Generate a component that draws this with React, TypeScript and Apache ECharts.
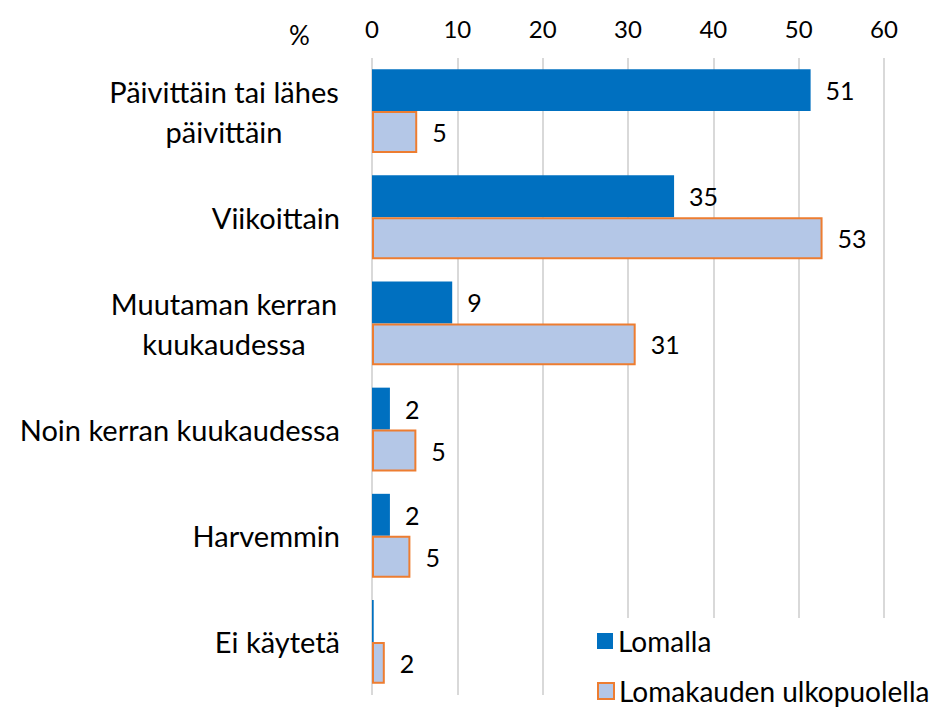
import React, { useEffect, useRef } from "react";
import * as echarts from "echarts";

const categories = [
  "Päivittäin tai lähes\npäivittäin",
  "Viikoittain",
  "Muutaman kerran\nkuukaudessa",
  "Noin kerran kuukaudessa",
  "Harvemmin",
  "Ei käytetä",
];
const seriesNames = ["Lomalla", "Lomakauden ulkopuolella"];
const lomalla = [51.4, 35.4, 9.4, 2.1, 2.1, 0.2];
const ulkopuolella = [5.3, 52.8, 30.9, 5.2, 4.5, 1.5];
const xTicks = { min: 0, max: 60, interval: 10 };

const FONT = "Lato";

function measure(text: string, size: number): number {
  const c = document.createElement("canvas").getContext("2d");
  if (!c) return text.length * size * 0.5;
  c.font = `${size}px ${FONT}`;
  return c.measureText(text).width;
}

export default function App() {
  const ref = useRef<HTMLDivElement>(null);
  useEffect(() => {
    if (!ref.current) return;
    const chart = echarts.init(ref.current, null, { renderer: "svg" });
    const catSize = 29;
    let multiW = 0;
    categories.forEach((c) => {
      if (c.includes("\n")) c.split("\n").forEach((l) => (multiW = Math.max(multiW, measure(l, catSize))));
    });
    multiW = Math.ceil(multiW) + 2;
    const valueLabel = {
      show: true,
      position: "right",
      distance: 15,
      fontSize: 25,
      color: "#000",
      fontFamily: FONT,
      formatter: (p: any) => String(Math.round(p.value)),
    };
    const legendBase = {
      orient: "horizontal",
      left: 597,
      padding: 0,
      itemWidth: 16,
      itemHeight: 16,
      icon: "rect",
      textStyle: { fontSize: 28, color: "#000", fontFamily: FONT },
    };
    chart.setOption({
      animation: false,
      textStyle: { fontFamily: FONT },
      grid: { left: 372, right: 46, top: 58, bottom: 12, containLabel: false },
      graphic: [
        {
          type: "text",
          left: 289,
          top: 22,
          style: { text: "%", fontSize: 26, fontFamily: FONT, fill: "#000" },
        },
        {
          type: "rect",
          left: 588,
          top: 618,
          z: 1,
          shape: { width: 342, height: 89 },
          style: { fill: "#fff" },
        },
      ],
      legend: [
        { ...legendBase, data: [seriesNames[0]], top: 627 },
        { ...legendBase, data: [seriesNames[1]], top: 677 },
      ],
      xAxis: {
        type: "value",
        position: "top",
        min: xTicks.min,
        max: xTicks.max,
        interval: xTicks.interval,
        axisLine: { show: false },
        axisTick: { show: false },
        axisLabel: { fontSize: 24, color: "#000", margin: 18, fontFamily: FONT },
        splitLine: { lineStyle: { color: "#D9D9D9", width: 2 } },
      },
      yAxis: {
        type: "category",
        data: categories,
        inverse: true,
        axisLine: { show: false },
        axisTick: { show: false },
        axisLabel: {
          fontSize: catSize,
          color: "#000",
          margin: 32,
          lineHeight: 40,
          fontFamily: FONT,
          align: "right",
          formatter: (v: string) =>
            v.includes("\n") ? v.split("\n").map((l) => `{m|${l}}`).join("\n") : v,
          rich: {
            m: { width: multiW, align: "center", fontSize: catSize, lineHeight: 40, fontFamily: FONT, color: "#000" },
          },
        },
      },
      series: [
        {
          name: seriesNames[0],
          type: "bar",
          data: lomalla.map((v) => (v < 0.5 ? { value: v, label: { show: false } } : v)),
          barGap: "0%",
          barCategoryGap: "21%",
          itemStyle: { color: "#0070C0" },
          label: valueLabel,
        },
        {
          name: seriesNames[1],
          type: "bar",
          data: ulkopuolella,
          barGap: "0%",
          barCategoryGap: "21%",
          itemStyle: { color: "#B4C7E7", borderColor: "#ED7D31", borderWidth: 2 },
          label: valueLabel,
        },
      ],
    });
    return () => chart.dispose();
  }, []);
  return <div ref={ref} style={{ width: 930, height: 707, position: "absolute", left: 0, top: 0 }} />;
}
